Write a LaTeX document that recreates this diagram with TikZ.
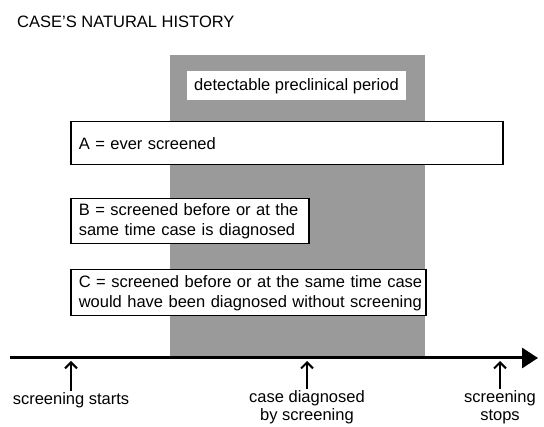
\documentclass[tikz,border=0pt]{standalone}
\usepackage{fontspec}
\setmainfont{Liberation Sans}
\usetikzlibrary{arrows.meta, positioning}
\definecolor{periodgray}{RGB}{154,154,154}

\begin{document}
\begin{tikzpicture}[
    x=1pt, y=-1pt,
    font=\fontsize{16.5}{20}\selectfont,
    periodbox/.style={rectangle, fill=periodgray, draw=none},
    periodlabel/.style={rectangle, fill=white, minimum width=219pt, minimum height=29pt,
                        inner sep=0pt},
    groupbox/.style={rectangle, draw=black, line width=1.5pt, fill=white, anchor=north west,
                     inner xsep=8pt, inner ysep=0pt, align=left},
    axis/.style={-{Triangle[length=16pt, width=20pt]}, line width=3pt},
    uparrow/.style={-{Straight Barb[length=6pt, width=12pt]}, line width=2pt},
    eventlabel/.style={anchor=north, align=center, inner sep=1pt,
                       font=\fontsize{16.5}{18.5}\selectfont}
]
    \useasboundingbox (0,0) rectangle (544,427);

    % Title
    \node[anchor=base west, inner sep=0pt] (title) at (17,28) {CASE'S NATURAL HISTORY};

    % Detectable preclinical period
    \fill[periodgray] (170,55) rectangle (425,357);
    \node[periodlabel] (period) at (296.5,86) {detectable preclinical period};

    % Groups
    \node[groupbox, text width=416pt, minimum height=43pt] (ga) at (70,121)
        {A = ever screened};
    \node[groupbox, text width=222pt, minimum height=45pt] (gb) at (70,198)
        {B = screened before or at the\\same time case is diagnosed};
    \node[groupbox, text width=339pt, minimum height=46pt] (gc) at (70,269)
        {\mbox{C = screened before or at the same time case}\\
         \mbox{would have been diagnosed without screening}};

    % Time axis
    \coordinate (axisstart) at (10,358);
    \coordinate (axisend) at (538,358);
    \draw[axis] (axisstart) -- (axisend);

    % Events
    \coordinate (m1) at (71,361);
    \coordinate (m2) at (307,361);
    \coordinate (m3) at (500,361);
    \node[eventlabel] (start) at (71,391) {screening starts};
    \node[eventlabel] (diag) at (307,389) {case diagnosed\\by screening};
    \node[eventlabel] (stop) at (500,389) {screening\\stops};

    \draw[uparrow] (start.north) -- (m1);
    \draw[uparrow] (diag.north) -- (m2);
    \draw[uparrow] (stop.north) -- (m3);
\end{tikzpicture}
\end{document}
